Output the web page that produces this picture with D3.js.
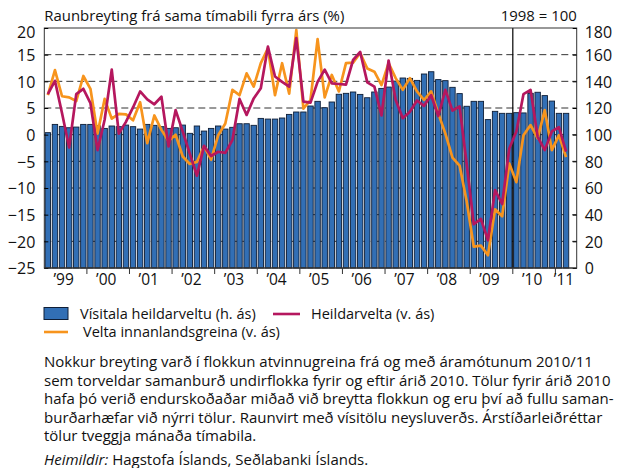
<!DOCTYPE html>
<html>
<head>
<meta charset="utf-8">
<script src="https://cdn.jsdelivr.net/npm/d3@7"></script>
<style>
  html, body { margin: 0; padding: 0; background: #fff; }
  svg { display: block; font-family: "Open Sans", sans-serif; }
</style>
</head>
<body>
<svg id="chart" width="619" height="468"></svg>
<script>
// ---- Data (bimonthly periods, Jan-Feb 1999 .. Mar-Apr 2011) ----
const startYear = 1999;
const periodsPerYear = 6;
const yearLabels = ["’99","’00","’01","’02","’03","’04","’05","’06","’07","’08","’09","’10","’11"];

// Vísitala heildarveltu (right axis, 1998 = 100)
const turnoverIndex = [
  101.5, 107.7, 106.2, 105.2, 105.7, 107.7,
  107.7, 106.7, 104.7, 106.5, 106.0, 107.2,
  106.0, 104.2, 107.7, 107.0, 106.0, 104.7,
  105.2, 107.2, 101.0, 106.5, 102.7, 104.7,
  106.5, 104.2, 105.5, 108.2, 108.2, 107.0,
  112.2, 111.7, 111.7, 112.5, 115.2, 117.0,
  117.0, 121.5, 125.0, 120.2, 124.5, 130.3,
  131.0, 132.0, 130.2, 127.7, 132.0, 134.7,
  135.7, 140.2, 142.5, 142.2, 140.7, 145.5,
  147.2, 141.3, 140.5, 135.5, 130.8, 121.3,
  125.0, 125.0, 111.3, 117.5, 116.0, 116.0,
  116.5, 116.3, 131.0, 131.8, 129.3, 125.2,
  116.0, 116.0
];

// Heildarvelta (left axis, %)
const totalTurnover = [
  7.6, 10.1, 4.0, -2.4, 7.6, 8.6,
  5.9, -2.9, 2.8, 12.2, 0.2, 2.4,
  5.1, 8.1, 6.6, 5.7, 7.1, -2.2,
  4.6, 0.6, -3.6, -7.7, -2.1, -4.0,
  -3.2, -3.4, -1.0, 6.7, 3.7, 6.8,
  8.7, 16.5, 10.9, 9.9, 9.0, 18.1,
  6.2, 6.0, 9.9, 12.2, 9.6, 9.5,
  9.4, 14.0, 15.5, 9.8, 9.0, 3.6,
  13.9, 6.5, 3.1, 4.3, 6.4, 5.4,
  7.4, 3.5, 8.4, 4.5, 5.3, -5.5,
  -16.8, -15.8, -19.8, -10.4, -13.0, -2.6,
  0.6, 7.6, 8.4, -0.4, -2.9, 0.6,
  1.4, -3.2
];

// Velta innanlandsgreina (left axis, %)
const domesticTurnover = [
  7.4, 12.1, 7.2, 7.0, 6.3, 11.0,
  8.6, 0.2, 6.7, 3.0, 3.9, 3.8,
  2.7, 6.1, -1.6, 3.6, 0.9, -1.2,
  0.0, -4.1, -5.5, -5.1, -2.2, -4.7,
  -0.1, 2.1, 8.4, 7.4, 11.5, 9.0,
  13.4, 16.2, 7.4, 13.4, 7.7, 19.6,
  4.9, 6.5, 17.9, 7.0, 11.2, 8.1,
  13.4, 13.5, 15.3, 12.4, 11.8, 9.3,
  13.4, 10.6, 8.4, 10.6, 8.1, 6.5,
  8.1, 4.0, 0.2, -4.3, -5.8, -12.5,
  -21.0, -20.8, -22.6, -14.0, -15.3, -5.4,
  -8.9, -0.1, 1.8, -0.7, 4.6, -2.9,
  -0.1, -4.2
];

const leftTicks = [20, 15, 10, 5, 0, -5, -10, -15, -20, -25];
const rightTicks = [180, 160, 140, 120, 100, 80, 60, 40, 20, 0];

const titleText = "Raunbreyting frá sama tímabili fyrra árs (%)";
const baseText = "1998 = 100";
const legendLabels = ["Vísitala heildarveltu (h. ás)", "Heildarvelta (v. ás)", "Velta innanlandsgreina (v. ás)"];
const noteLines = [
  "Nokkur breyting varð í flokkun atvinnugreina frá og með áramótunum 2010/11",
  "sem torveldar samanburð undirflokka fyrir og eftir árið 2010. Tölur fyrir árið 2010",
  "hafa þó verið endurskoðaðar miðað við breytta flokkun og eru því að fullu saman-",
  "burðarhæfar við nýrri tölur. Raunvirt með vísitölu neysluverðs. Árstíðarleiðréttar",
  "tölur tveggja mánaða tímabila."
];
const sourceLabel = "Heimildir:";
const sourceText = " Hagstofa Íslands, Seðlabanki Íslands.";

// ---- Layout ----
const colors = { bar: "#326fb5", barStroke: "#0f1e36", total: "#b5175e", domestic: "#f7941d" };
const plot = { left: 44.3, right: 576.7, top: 28, bottom: 268 };

const svg = d3.select("#chart");

const x = d3.scaleLinear().domain([startYear, 2011.5]).range([plot.left, plot.right]);
const yL = d3.scaleLinear().domain([-25, 20]).range([plot.bottom, plot.top]);
const yR = d3.scaleLinear().domain([0, 180]).range([plot.bottom, plot.top]);
const tOf = i => startYear + (i + 0.5) / periodsPerYear;
const slotW = x(startYear + 1 / periodsPerYear) - x(startYear);
const barW = slotW * 0.76;

// gridlines (dashed) behind bars
svg.append("g").selectAll("line").data(leftTicks.filter(d => d > -25 && d < 20)).join("line")
  .attr("x1", plot.left).attr("x2", plot.right)
  .attr("y1", d => yL(d)).attr("y2", d => yL(d))
  .attr("stroke", "#333").attr("stroke-width", 1).attr("stroke-dasharray", "7,4");

// bars
svg.append("g").selectAll("rect").data(turnoverIndex).join("rect")
  .attr("x", (d, i) => x(tOf(i)) - barW / 2)
  .attr("width", barW)
  .attr("y", d => yR(d))
  .attr("height", d => yR(0) - yR(d))
  .attr("fill", colors.bar)
  .attr("stroke", colors.barStroke).attr("stroke-width", 0.9);

// 2010 divider
svg.append("line")
  .attr("x1", x(2010)).attr("x2", x(2010)).attr("y1", plot.top).attr("y2", plot.bottom)
  .attr("stroke", "#000").attr("stroke-width", 1.2);

// lines
const lineGen = d3.line().x((d, i) => x(tOf(i))).y(d => yL(d)).curve(d3.curveLinear);
svg.append("path").datum(domesticTurnover).attr("d", lineGen)
  .attr("fill", "none").attr("stroke", colors.domestic).attr("stroke-width", 2.7).attr("stroke-linejoin", "round");
svg.append("path").datum(totalTurnover).attr("d", lineGen)
  .attr("fill", "none").attr("stroke", colors.total).attr("stroke-width", 2.7).attr("stroke-linejoin", "round");

// frame
svg.append("rect")
  .attr("x", plot.left).attr("y", plot.top)
  .attr("width", plot.right - plot.left).attr("height", plot.bottom - plot.top)
  .attr("fill", "none").attr("stroke", "#333").attr("stroke-width", 1);

// left axis
const leftAxis = d3.axisLeft(yL).tickValues(leftTicks).tickSize(-4).tickPadding(9).tickFormat(d3.format("d"));
const gL = svg.append("g").attr("transform", `translate(${plot.left},0)`).call(leftAxis);
gL.select(".domain").remove();
gL.selectAll(".tick line").attr("stroke", "#000");
gL.selectAll(".tick text").attr("font-size", 16).attr("font-family", "Open Sans").attr("fill", "#111")
  .attr("dy", d => d === 20 ? "0.6em" : "0.36em");

// right axis
const rightAxis = d3.axisRight(yR).tickValues(rightTicks).tickSize(-4).tickPadding(8).tickFormat(d3.format("d"));
const gR = svg.append("g").attr("transform", `translate(${plot.right},0)`).call(rightAxis);
gR.select(".domain").remove();
gR.selectAll(".tick line").attr("stroke", "#000");
gR.selectAll(".tick text").attr("font-size", 16).attr("font-family", "Open Sans").attr("fill", "#111")
  .attr("dy", d => d === 180 ? "0.6em" : "0.36em");

// x axis: year boundary ticks + labels
const yearBounds = d3.range(startYear + 1, 2012);
const gX = svg.append("g").attr("transform", `translate(0,${plot.bottom})`);
gX.append("line").attr("x1", plot.left).attr("x2", plot.right).attr("y1", 0).attr("y2", 0)
  .attr("stroke", "#333").attr("stroke-width", 1);
gX.selectAll("line.yt").data(yearBounds).join("line").attr("class", "yt")
  .attr("x1", d => x(d)).attr("x2", d => x(d)).attr("y1", 0).attr("y2", 6)
  .attr("stroke", "#333").attr("stroke-width", 1);
gX.selectAll("text").data(yearLabels).join("text")
  .attr("x", (d, i) => (i < yearLabels.length - 1 ? x(startYear + i + 0.5) : x(startYear + i + 0.25)) - 2)
  .attr("y", 17)
  .attr("text-anchor", "middle").attr("font-size", 15.5).attr("fill", "#111")
  .text(d => d);

// title texts
svg.append("text").attr("x", plot.left).attr("y", 20.5).attr("font-size", 14.9).attr("fill", "#111").text(titleText);
svg.append("text").attr("x", plot.right).attr("y", 20.5).attr("text-anchor", "end").attr("font-size", 14.9).attr("fill", "#111").text(baseText);

// legend
const lg = svg.append("g").attr("font-size", 14.5).attr("fill", "#111");
lg.append("rect").attr("x", 44).attr("y", 307.5).attr("width", 24).attr("height", 12)
  .attr("fill", colors.bar).attr("stroke", colors.barStroke).attr("stroke-width", 1);
lg.append("text").attr("x", 80).attr("y", 318.5).text(legendLabels[0]);
lg.append("line").attr("x1", 273).attr("x2", 300).attr("y1", 314).attr("y2", 314)
  .attr("stroke", colors.total).attr("stroke-width", 2.6);
lg.append("text").attr("x", 311).attr("y", 318.5).text(legendLabels[1]);
lg.append("line").attr("x1", 44).attr("x2", 68).attr("y1", 332).attr("y2", 332)
  .attr("stroke", colors.domestic).attr("stroke-width", 2.6);
lg.append("text").attr("x", 83).attr("y", 336.5).text(legendLabels[2]);

// notes
const ng = svg.append("g").attr("font-size", 15).attr("fill", "#111");
noteLines.forEach((t, i) => {
  ng.append("text").attr("x", 44).attr("y", 367 + i * 18.5).text(t);
});
const src = ng.append("text").attr("x", 44).attr("y", 465);
src.append("tspan").attr("font-style", "italic").text(sourceLabel);
src.append("tspan").text(sourceText);
</script>
</body>
</html>
